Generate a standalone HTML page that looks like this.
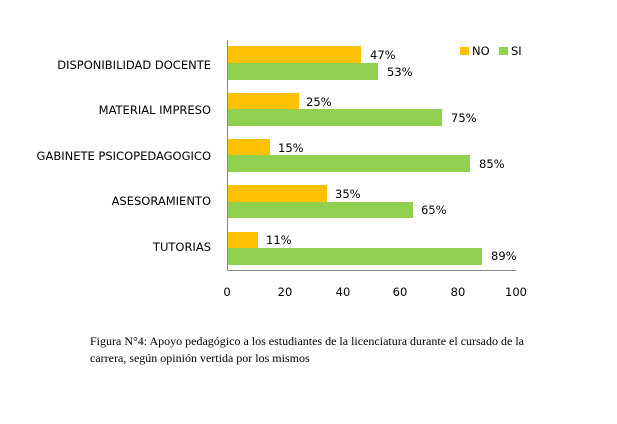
<!DOCTYPE html>
<html><head><meta charset="utf-8"><style>
body{margin:0;background:#fff;width:617px;height:424px;overflow:hidden}
svg text{font-family:"DejaVu Sans","Liberation Sans",sans-serif;font-size:11.5px;fill:#000}
.cap{position:absolute;left:90px;top:333px;font-family:"Liberation Serif",serif;font-size:12px;line-height:17px;color:#000;width:445px}
</style></head><body>
<svg width="617" height="424" style="position:absolute;left:0;top:0">
<g fill="#FFC000">
<rect x="227" y="46" width="134" height="17"/>
<rect x="227" y="93" width="72" height="16"/>
<rect x="227" y="139" width="43" height="16"/>
<rect x="227" y="185" width="100" height="17"/>
<rect x="227" y="232" width="31" height="16"/>
</g>
<g fill="#92D050">
<rect x="227" y="63" width="151" height="17"/>
<rect x="227" y="109" width="215" height="17"/>
<rect x="227" y="155" width="243" height="17"/>
<rect x="227" y="202" width="186" height="16"/>
<rect x="227" y="248" width="255" height="17"/>
</g>
<line x1="227.5" y1="40" x2="227.5" y2="271" stroke="#888" stroke-width="1"/>
<line x1="227" y1="270.5" x2="516" y2="270.5" stroke="#888" stroke-width="1"/>
<g text-anchor="end">
<text x="211" y="69">DISPONIBILIDAD DOCENTE</text>
<text x="211" y="114">MATERIAL IMPRESO</text>
<text x="211" y="160">GABINETE PSICOPEDAGOGICO</text>
<text x="211" y="205">ASESORAMIENTO</text>
<text x="211" y="251">TUTORIAS</text>
</g>
<g>
<text x="370" y="59">47%</text><text x="387" y="76">53%</text>
<text x="306" y="106">25%</text><text x="451" y="122">75%</text>
<text x="278" y="152">15%</text><text x="479" y="168">85%</text>
<text x="335" y="198">35%</text><text x="421" y="214">65%</text>
<text x="266" y="244">11%</text><text x="491" y="260">89%</text>
</g>
<g text-anchor="middle">
<text x="227" y="296">0</text><text x="285" y="296">20</text><text x="343" y="296">40</text>
<text x="400" y="296">60</text><text x="458" y="296">80</text><text x="516" y="296">100</text>
</g>
<rect x="460" y="47" width="9" height="8" fill="#FFC000"/>
<text x="472" y="55">NO</text>
<rect x="499" y="47" width="9" height="8" fill="#92D050"/>
<text x="511" y="55">SI</text>
</svg>
<div class="cap">Figura N°4: Apoyo pedagógico a los estudiantes de la licenciatura durante el cursado de la carrera, según opinión vertida por los mismos</div>
</body></html>
